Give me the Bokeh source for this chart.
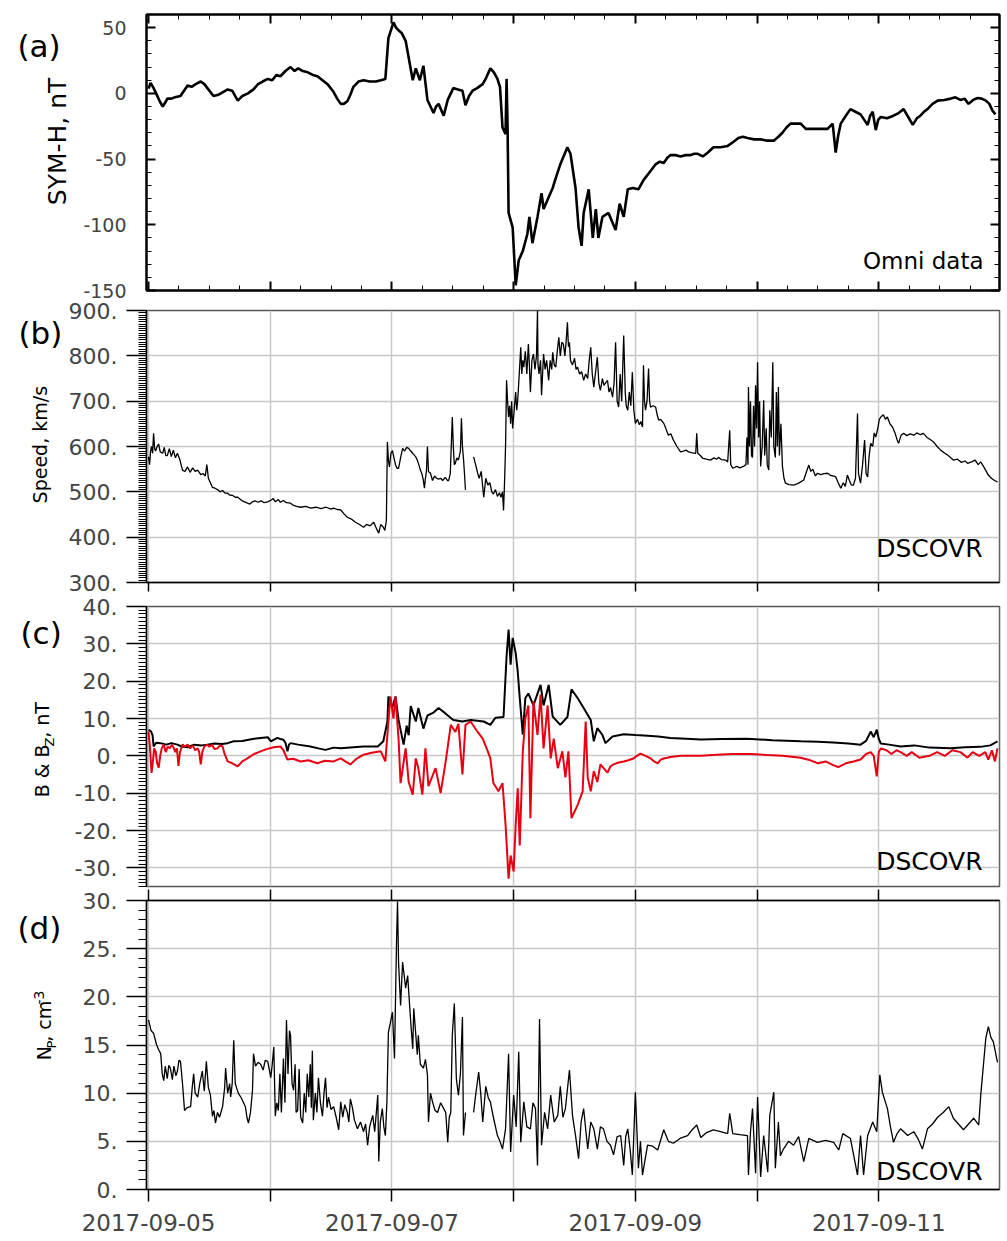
import math
from bokeh.plotting import figure
from bokeh.models import Range1d, FixedTicker, LinearAxis, Label, PrintfTickFormatter, Grid
from bokeh.layouts import column, row
from bokeh.embed import file_html
from bokeh.resources import INLINE

NAN = float("nan")
FONT = "DejaVu Sans"

# time axis: hours after 2017-09-05 00:00 UT
day_hours = [0, 24, 48, 72, 96, 120, 144, 168]
day_labels = ["2017-09-05", "", "2017-09-07", "", "2017-09-09", "", "2017-09-11", ""]

# (a) SYM-H, nT (Omni) -- (hour, value) readings
symh_pts = [
    (0, 3.6), (0.4, 8), (1.0, 4), (1.5, 0), (2.2, -6), (2.8, -10), (3.3, -7), (3.7, -4), (4.5, -4),
    (5.2, -3), (6.3, -2), (7.0, 2), (7.7, 6), (8.5, 5), (9.3, 7), (10.3, 9), (11.0, 7), (11.8, 3),
    (12.8, -2), (13.8, -1), (14.7, 1), (15.6, 3), (16.5, 2), (17.6, -5.5), (18.5, -2), (19.6, 0),
    (20.7, 3), (21.6, 7), (22.5, 9), (23.5, 11), (24.4, 10), (25.2, 14), (26.0, 13), (27.0, 17),
    (28.0, 20), (28.8, 17), (29.5, 19), (30.4, 17), (31.4, 16), (32.4, 14), (33.3, 13), (34.3, 10),
    (35.3, 7), (36.5, 1), (37.2, -4), (37.9, -8), (38.5, -8), (39.2, -6), (39.8, -1), (40.4, 5),
    (41.4, 9), (42.4, 10), (43.6, 9), (44.8, 9), (45.8, 10), (46.7, 11), (47.3, 42), (48.3, 54),
    (48.8, 50), (49.3, 48), (49.9, 46), (50.7, 40), (51.4, 25), (52.1, 10), (52.7, 19), (53.5, 10),
    (54.2, 21), (55.0, -5), (56.2, -15), (56.7, -10), (57.2, -8), (58.2, -17), (59.0, -5), (60.1, 4),
    (61.0, 3), (61.9, 2), (62.5, -9), (63.2, -2), (63.9, 2), (64.8, 4), (65.9, 7), (66.6, 12),
    (67.4, 19), (68.1, 16), (68.8, 11), (69.3, 5), (69.8, -26), (70.4, -31), (70.6, 11), (70.8, -26),
    (71.0, -91), (71.8, -102), (72.4, -146), (73.0, -127), (73.8, -120), (74.7, -107), (75.1, -94),
    (75.7, -114), (76.7, -94), (77.5, -76), (77.9, -88), (78.9, -79), (79.7, -72), (80.5, -62),
    (81.2, -54), (82.6, -41), (83.2, -46), (84.2, -72), (84.8, -102), (85.4, -116), (85.8, -91),
    (86.8, -73), (87.6, -110), (88.2, -88), (88.7, -110), (89.5, -94), (90.7, -91), (92.1, -104),
    (92.9, -84), (93.7, -94), (94.5, -73), (95.5, -72), (96.6, -73), (97.6, -66), (98.8, -60),
    (100.0, -54), (100.8, -52), (101.6, -53), (102.3, -49), (102.9, -47), (103.9, -47), (104.9, -48),
    (105.9, -47), (106.9, -47), (107.6, -46), (108.3, -46), (109.3, -48), (110.3, -45), (111.4, -41),
    (112.8, -41), (114.2, -40), (115.3, -37), (116.3, -34), (117.2, -33), (118.1, -34), (119.4, -35),
    (120.7, -35), (122.0, -36), (123.3, -36), (124.2, -33), (125.0, -30), (125.8, -26), (126.6, -23),
    (127.6, -23), (128.6, -23), (129.6, -27), (131.8, -27), (133.9, -27), (134.9, -23), (135.5, -45),
    (136.0, -32), (136.5, -23), (137.5, -17), (138.4, -12), (139.4, -14), (140.4, -16), (141.1, -20),
    (141.8, -24), (142.3, -17), (142.8, -14), (143.4, -28), (143.9, -20), (144.4, -18), (145.6, -19),
    (146.9, -17), (147.9, -15), (148.9, -12), (149.8, -18), (150.7, -24), (151.5, -19), (152.2, -17),
    (152.9, -14), (153.6, -12), (154.6, -8), (155.6, -5.5), (156.9, -5), (158.2, -4), (159.1, -3),
    (160.1, -5), (160.9, -4), (161.7, -8), (162.6, -5), (163.5, -3.5), (164.3, -4), (165.1, -5.5),
    (165.8, -8), (166.4, -13), (167.0, -16),
]

# (b) solar wind speed, km/s (DSCOVR); NAN marks a data gap
speed_pts = [
    (0, 577), (0.2, 560), (0.4, 590), (0.6, 600), (0.8, 585), (1.0, 629), (1.2, 595), (1.4, 590),
    (1.7, 600), (2.0, 605), (2.3, 588), (2.8, 585), (3.1, 598), (3.4, 580), (3.7, 580), (4.1, 595),
    (4.5, 578), (4.9, 592), (5.3, 575), (5.7, 585), (6.2, 570), (6.7, 548), (7.2, 545), (7.7, 555),
    (8.2, 543), (8.7, 553), (9.2, 545), (9.7, 548), (10.3, 538), (10.8, 540), (11.2, 535), (11.5, 560),
    (11.8, 530), (12.2, 520), (12.6, 510), (13.1, 508), (13.6, 505), (14.1, 500), (14.6, 503),
    (15.1, 497), (15.6, 497), (16.0, 493), (16.6, 492), (17.1, 488), (17.6, 488), (18.5, 480),
    (19.5, 475), (20.0, 473), (20.5, 478), (21.0, 480), (21.6, 477), (22.2, 480), (22.8, 476),
    (23.5, 478), (24.2, 482), (24.6, 485), (25.0, 478), (25.6, 483), (26.0, 477), (26.6, 481),
    (27.2, 476), (28.0, 475), (28.6, 470), (29.2, 468), (30.0, 466), (31.0, 468), (32.0, 464),
    (33.0, 466), (34.0, 463), (35.0, 466), (36.0, 462), (36.5, 464), (37.2, 461), (37.9, 460),
    (38.5, 452), (39.2, 444), (40.0, 440), (40.8, 433), (41.6, 428), (42.4, 422), (43.0, 428),
    (43.7, 425), (44.4, 433), (44.9, 420), (45.4, 409), (45.8, 428), (46.3, 422), (46.6, 415),
    (46.9, 437), (47.1, 610), (47.3, 570), (47.5, 555), (47.8, 585), (48.1, 591), (48.4, 575),
    (48.7, 560), (49.0, 552), (49.3, 552), (49.7, 575), (50.1, 596), (50.5, 590), (50.9, 598),
    (51.3, 596), (51.7, 590), (52.1, 585), (52.7, 577), (53.0, 570), (53.3, 560), (53.6, 548),
    (53.9, 540), (54.2, 525), (54.4, 508), (54.6, 530), (54.8, 545), (55.0, 600), (55.2, 545),
    (55.6, 541), (56.0, 525), (56.4, 535), (56.8, 530), (57.2, 528), (57.6, 530), (58.0, 525),
    (58.5, 532), (59.0, 524), (59.2, 526), (59.5, 540), (59.9, 665), (60.1, 600), (60.3, 560),
    (60.5, 563), (60.8, 575), (61.1, 570), (61.5, 590), (61.7, 662), (61.9, 600), (62.1, 574),
    (62.3, 540), (62.5, 504), (63.3, NAN), (64.1, 577), (64.5, 560), (64.9, 541), (65.2, 530),
    (65.6, 545), (66.1, 488), (66.5, 530), (66.9, 515), (67.3, 520), (67.7, 500), (68.0, 495),
    (68.4, 505), (68.8, 490), (69.2, 498), (69.5, 488), (69.8, 500), (70.0, 459), (70.2, 520),
    (70.4, 600), (70.6, 746), (70.8, 700), (71.0, 665), (71.2, 690), (71.4, 650), (71.6, 700),
    (71.8, 640), (72.1, 680), (72.4, 720), (72.6, 680), (72.8, 702), (73.1, 760), (73.4, 819),
    (73.6, 760), (73.8, 790), (74.0, 775), (74.3, 810), (74.6, 760), (74.9, 826), (75.1, 780),
    (75.3, 720), (75.6, 790), (75.9, 804), (76.2, 770), (76.5, 800), (76.7, 900), (76.8, 780),
    (77.0, 760), (77.3, 790), (77.5, 713), (77.7, 760), (77.9, 804), (78.2, 770), (78.5, 790),
    (78.9, 746), (79.2, 790), (79.5, 770), (79.7, 808), (80.0, 780), (80.3, 775), (80.6, 810),
    (80.9, 841), (81.2, 800), (81.5, 830), (81.8, 826), (82.1, 800), (82.4, 840), (82.6, 874),
    (82.8, 820), (83.0, 830), (83.2, 790), (83.6, 780), (84.0, 795), (84.3, 770), (84.6, 775),
    (85.0, 760), (85.4, 765), (85.8, 746), (86.2, 760), (86.6, 750), (86.9, 790), (87.2, 819),
    (87.5, 760), (87.8, 731), (88.1, 760), (88.5, 797), (88.8, 740), (89.1, 724), (89.5, 750),
    (89.8, 735), (90.1, 740), (90.5, 746), (90.8, 720), (91.1, 730), (91.5, 709), (91.8, 740),
    (92.1, 830), (92.4, 700), (92.7, 687), (93.0, 760), (93.3, 700), (93.7, 845), (94.0, 720),
    (94.2, 690), (94.5, 680), (94.8, 720), (95.1, 690), (95.4, 764), (95.7, 680), (96.0, 651),
    (96.4, 660), (96.8, 648), (97.1, 655), (97.4, 643), (97.6, 779), (97.8, 700), (98.0, 680),
    (98.3, 700), (98.6, 772), (98.8, 700), (99.0, 687), (99.5, 690), (100.0, 687), (100.3, 670),
    (100.6, 658), (101.0, 660), (101.6, 651), (102.0, 640), (102.5, 625), (103.0, 628), (103.5, 614),
    (104.2, 600), (104.9, 588), (105.5, 590), (106.0, 592), (106.5, 588), (107.2, 586), (107.9, 585),
    (108.1, 629), (108.3, 585), (108.8, 580), (109.3, 574), (110.0, 572), (110.8, 570), (111.5, 575),
    (112.0, 572), (112.4, 576), (113.0, 571), (113.8, 570), (114.2, 566), (114.6, 636), (114.8, 560),
    (115.2, 552), (116.0, 556), (116.6, 553), (117.3, 556), (117.8, 560), (118.0, 620), (118.2, 560),
    (118.3, 731), (118.5, 600), (118.7, 700), (118.9, 580), (119.1, 576), (119.3, 690), (119.5, 600),
    (119.7, 735), (119.9, 640), (120.1, 786), (120.3, 620), (120.5, 700), (120.7, 556), (121.0, 600),
    (121.3, 702), (121.5, 580), (121.8, 640), (122.0, 560), (122.3, 548), (122.5, 680), (122.8, 620),
    (123.1, 786), (123.3, 600), (123.6, 576), (123.8, 720), (124.0, 600), (124.2, 731), (124.4, 580),
    (124.7, 650), (125.0, 556), (125.3, 530), (125.6, 519), (126.3, 516), (127.2, 515), (128.0, 518),
    (128.6, 522), (129.2, 526), (129.6, 540), (130.2, 559), (130.6, 545), (131.0, 550), (131.5, 535),
    (131.9, 541), (132.5, 538), (133.2, 540), (133.9, 541), (134.5, 536), (135.0, 535), (135.5, 533),
    (136.0, 520), (136.5, 508), (137.0, 520), (137.4, 512), (137.8, 537), (138.2, 525), (138.6, 515),
    (139.0, 515), (139.4, 530), (139.8, 673), (140.0, 540), (140.4, 519), (140.8, 560), (141.2, 614),
    (141.5, 540), (141.8, 533), (142.1, 580), (142.4, 607), (142.8, 600), (143.1, 630), (143.4, 621),
    (143.8, 640), (144.1, 660), (144.4, 665), (144.9, 670), (145.3, 660), (145.7, 665), (146.2, 650),
    (146.7, 643), (147.2, 630), (147.6, 615), (147.9, 607), (148.4, 625), (148.9, 629), (149.5, 624),
    (150.2, 628), (150.9, 625), (151.5, 630), (152.2, 626), (152.8, 629), (153.5, 620), (154.2, 615),
    (154.8, 610), (155.5, 600), (156.2, 592), (157.0, 585), (157.6, 581), (158.2, 575), (158.7, 570),
    (159.5, 572), (160.3, 565), (161.0, 568), (161.5, 563), (162.3, 566), (163.0, 570), (163.6, 560),
    (164.1, 566), (164.7, 555), (165.2, 545), (165.6, 537), (166.2, 530), (166.8, 525), (167.4, 522),
]

# (c) |B| (black), nT (DSCOVR)
b_pts = [
    (0, 7), (0.5, 6.5), (0.8, 5.5), (1.0, 2.5), (1.5, 3.5), (2.4, 3.4), (3.5, 3), (4.5, 3.4),
    (5.7, 3), (6.5, 2.5), (7.7, 2.3), (9.0, 3), (10.5, 2.8), (11.6, 3), (13.0, 3.3), (14.5, 3.2),
    (15.6, 3.4), (16.8, 3.9), (18.5, 4), (20.5, 4.5), (22.1, 4.8), (23.5, 5), (24.1, 3.9),
    (25.4, 4.8), (26.0, 4.5), (26.6, 4.3), (27.0, 3.5), (27.4, 1.2), (27.7, 3), (28.0, 3.4),
    (29.5, 3), (31.9, 2.5), (33.5, 2), (34.9, 1.6), (36.5, 2.2), (37.9, 2), (38.5, 2.1), (42.4, 2.5),
    (45.2, 2.5), (46.3, 3.9), (47.1, 9.2), (47.3, 15.9), (48.1, 13), (48.7, 15.9), (49.3, 9.6),
    (50.3, 3), (50.9, 8.1), (51.3, 5.5), (51.7, 13.3), (52.7, 9.2), (53.2, 12.8), (54.2, 7.3),
    (55.0, 10.8), (56.2, 11.6), (57.2, 12.8), (58.6, 11.3), (60.1, 9.6), (61.9, 9.2), (63.5, 9.6),
    (66.1, 9.2), (67.4, 8.3), (68.4, 10.2), (70.0, 10.4), (70.6, 26.6), (71.0, 33.8), (71.4, 24.4),
    (71.8, 31.6), (72.4, 27.5), (72.8, 22.6), (73.2, 15.5), (73.8, 5.7), (74.3, 15.5), (74.9, 16.7),
    (75.9, 13.5), (77.3, 19), (77.9, 13.5), (78.9, 19), (79.7, 10.5), (81.2, 8.3), (82.6, 10.4),
    (83.4, 17.8), (84.6, 15.5), (85.8, 12.8), (87.2, 9.6), (87.8, 3.9), (88.5, 7.4), (89.5, 5.6),
    (90.1, 3.4), (91.5, 5.2), (93.7, 5.8), (96.0, 5.6), (98.4, 5.4), (100.5, 5.2), (102.9, 4.8),
    (106.0, 4.6), (108.9, 4.4), (113.0, 4.5), (118.0, 4.6), (123.0, 4.2), (128.6, 3.9), (132.0, 3.8),
    (135.0, 3.6), (138.0, 3.3), (140.4, 3), (141.5, 4), (142.4, 6.5), (143.0, 5), (143.6, 7),
    (144.0, 4.5), (144.4, 3.3), (146.0, 3), (148.3, 2.5), (151.0, 2.8), (154.0, 2.2), (158.2, 2),
    (161.0, 2.3), (164.0, 2.4), (166.0, 2.8), (167.4, 3.9),
]

# (c) Bz (red), nT (DSCOVR)
bz_pts = [
    (0, 6.5), (0.3, 2), (0.6, -4.6), (0.9, -1), (1.1, 2), (1.4, 1.2), (1.7, -2), (2.0, -3.2),
    (2.3, 0), (2.6, 2), (3.0, 3), (3.4, 1), (3.8, 2.5), (4.2, 2), (4.6, 3), (4.9, 2.3), (5.3, 1),
    (5.6, 2), (5.9, -2.7), (6.2, 1), (6.7, 3), (7.2, 2.5), (7.7, 3), (8.2, 2), (8.7, 2.8), (9.2, 1.5),
    (9.7, 2), (10.0, 1), (10.3, -2.3), (10.6, 1), (11.0, 2.5), (11.6, 3), (12.0, 2.4), (12.5, 3),
    (13.0, 1.8), (13.6, 2), (14.1, 2.8), (14.6, 2.5), (15.0, 0.5), (15.6, -1.5), (16.5, -2),
    (17.6, -2.8), (18.5, -1.5), (19.5, -0.7), (20.8, 0.5), (22.1, 1.2), (23.3, 1.8), (24.7, 2.3),
    (26.0, 2.5), (26.6, 1.5), (27.4, -1), (28.5, -0.8), (30.0, -1.5), (31.5, -1.2), (33.3, -2),
    (34.8, -1.3), (36.5, -1.5), (37.9, -0.7), (38.8, -1.5), (39.8, -2.3), (41.0, -0.8), (42.4, 0.3),
    (44.0, 0.8), (45.8, 1.2), (46.7, -1.5), (47.3, 9.2), (47.7, 15.9), (48.3, 10), (48.7, 15.9),
    (49.3, 4.6), (49.7, -7.3), (50.7, 2), (51.3, -7), (52.1, -10.4), (52.7, -0.7), (53.2, -3.3),
    (54.0, -10.4), (54.6, 2), (55.2, -8.1), (56.6, -3.3), (57.6, -10), (58.6, -1.5), (59.6, 8.3),
    (60.5, 6.4), (61.1, 8.6), (61.9, -5), (62.5, 8.3), (63.5, 9.2), (64.9, 6.4), (65.9, 4.6),
    (66.9, 1.2), (67.4, -0.7), (68.0, -7.3), (69.0, -9.5), (69.8, -7.3), (70.4, -18.4), (71.0, -32.9),
    (71.4, -26.7), (72.0, -31), (72.4, -18.4), (72.8, -8.7), (73.2, -24), (73.8, 1.2), (74.3, 10),
    (74.9, 13.5), (75.3, -16.7), (75.9, 14.6), (76.7, 5.6), (77.3, 16.4), (77.9, 2), (78.7, 13.5),
    (79.3, -0.7), (79.9, 4.6), (80.7, -3.3), (81.6, 1.2), (82.2, -5.8), (82.8, 1.2), (83.4, -16.7),
    (84.6, -13.2), (85.6, -9.5), (86.2, 9.2), (86.6, -5.8), (87.2, -9.5), (87.8, -4.1), (88.5, -7),
    (89.1, -2.3), (90.5, -4.5), (91.1, -2.8), (91.7, -2.3), (92.7, -1.8), (93.7, -1.5), (94.6, -1.2),
    (95.6, -0.7), (96.3, 0), (97.0, 0.6), (98.0, 0), (99.0, -0.7), (99.7, -1.5), (100.4, -2),
    (101.0, -1), (101.6, -0.7), (102.3, -0.5), (102.9, -0.3), (105.0, 0), (108.9, 0), (112.0, 0.3),
    (115.0, 0.5), (118.7, 0.5), (122.0, 0.2), (125.0, 0), (128.6, -0.5), (130.5, -1.2), (132.0, -2),
    (133.5, -1.5), (135.0, -2.5), (136.0, -3), (137.5, -2), (139.0, -1.5), (140.4, -1), (141.5, 0.5),
    (142.4, 1), (143.0, 0), (143.6, -5.5), (144.0, 1), (144.4, 2), (145.5, 1.5), (146.5, 0.5),
    (147.5, 1.5), (148.3, 1), (149.5, 0), (150.5, 1), (152.0, -0.5), (154.0, 0), (155.5, 1),
    (157.0, 0), (158.5, 1.5), (160.1, 1), (161.5, -0.5), (162.5, 1), (163.8, 0), (165.0, 1),
    (165.6, -1), (166.3, 1.5), (166.9, -1.5), (167.4, 2),
]

# (d) proton density, cm^-3 (DSCOVR); NAN marks a data gap
np_pts = [
    (0, 17.6), (0.5, 16.5), (1.0, 16.2), (1.6, 15), (2.0, 14.5), (2.4, 14.1), (2.7, 12), (3.0, 11.3),
    (3.3, 12.8), (3.7, 11.5), (4.0, 12.9), (4.3, 12.6), (4.7, 11.4), (5.0, 12.8), (5.4, 11.8),
    (5.7, 12.3), (6.0, 13.4), (6.3, 13.3), (6.7, 11), (7.1, 8.2), (7.6, 8.5), (8.3, 8.6), (8.6, 10.5),
    (8.9, 12), (9.2, 10), (9.7, 9.6), (10.1, 11), (10.6, 12.3), (11.0, 10.2), (11.4, 13.3),
    (11.8, 10.6), (12.2, 9.8), (12.6, 7.6), (12.9, 8.2), (13.2, 6.9), (13.6, 8), (14.0, 7.5),
    (14.6, 8.6), (15.0, 10.5), (15.2, 12.6), (15.6, 10), (16.0, 11), (16.2, 9.6), (16.5, 11),
    (16.8, 15.5), (17.1, 11), (17.4, 10.5), (17.7, 10), (18.3, 9.5), (19.1, 8.6), (19.4, 7.5),
    (19.7, 6.9), (20.1, 8), (20.5, 10.3), (20.7, 14.1), (21.1, 12.8), (21.6, 13.2), (22.1, 13),
    (22.6, 12.4), (23.0, 13.4), (23.5, 13.3), (23.8, 12.5), (24.1, 11.6), (24.4, 13), (24.7, 14.8),
    (24.9, 10), (25.0, 7.6), (25.3, 9), (25.6, 8.2), (25.9, 12), (26.2, 8), (26.6, 13.6), (26.9, 9),
    (27.2, 17.6), (27.5, 12), (27.8, 16.5), (28.0, 16), (28.3, 11), (28.6, 10.3), (28.9, 13),
    (29.1, 8), (29.4, 8.2), (29.7, 12.5), (30.0, 7.5), (30.4, 6.9), (30.7, 10), (31.0, 8), (31.3, 12),
    (31.6, 9.6), (31.9, 13), (32.1, 8.5), (32.3, 14.4), (32.5, 7.2), (32.9, 10), (33.2, 8),
    (33.5, 11.6), (33.9, 9), (34.3, 7.6), (34.6, 10), (34.9, 11.6), (35.2, 8.5), (35.5, 9.6),
    (36.0, 8.3), (36.5, 8.6), (37.0, 7.5), (37.5, 6.2), (37.9, 9.1), (38.3, 7.5), (38.7, 8.8),
    (39.2, 8), (39.5, 7), (39.8, 9.4), (40.2, 8.5), (40.6, 7.2), (41.2, 6.3), (41.8, 7), (42.4, 6),
    (42.8, 6.8), (43.2, 4.6), (43.6, 6.5), (44.2, 7.7), (44.6, 6), (45.0, 8.5), (45.2, 9.8),
    (45.4, 2.9), (45.7, 7), (46.1, 8.4), (46.4, 6.5), (46.7, 5.6), (47.0, 9), (47.3, 16.3),
    (48.1, 18.4), (48.5, 13.6), (48.9, 25.7), (49.1, 29.9), (49.3, 23.6), (49.7, 19.1), (50.1, 23.6),
    (50.7, 20.9), (51.1, 22.2), (51.7, 17.4), (52.1, 14.6), (52.3, 18.8), (53.0, 14), (53.2, 16),
    (53.6, 13), (54.2, 12.6), (54.6, 13.5), (55.0, 11.9), (55.2, 7), (55.6, 10), (56.0, 9.1),
    (56.5, 8.2), (57.0, 8), (57.6, 9), (58.2, 8.4), (58.6, 8), (59.0, 4.9), (59.3, 7.5), (59.6, 8),
    (59.9, 16), (60.3, 19.3), (60.7, 11.5), (61.1, 9.8), (61.5, 12), (61.9, 17.9), (62.1, 5.6),
    (62.5, 8), (63.3, NAN), (64.1, 8), (64.5, 9.8), (65.1, 12.2), (65.5, 10), (65.9, 7), (66.5, 10.7),
    (67.0, 9.5), (67.4, 9.1), (68.0, 7.5), (68.8, 5.6), (69.3, 5), (69.8, 4.2), (70.4, 6.3),
    (71.0, 14.1), (71.4, 3.9), (72.0, 9.8), (72.5, 6.5), (73.0, 14.3), (73.4, 4.9), (74.0, 9.1),
    (74.6, 6.5), (75.3, 6.3), (75.8, 9), (76.3, 8.4), (76.7, 2.5), (77.1, 17.7), (77.5, 4.6),
    (78.1, 8), (78.7, 6.3), (79.3, 9.8), (80.0, 7), (80.7, 7.7), (81.2, 10.7), (81.7, 7.5),
    (82.2, 8.4), (83.0, 12.4), (83.6, 7.7), (84.2, 5.6), (84.8, 3.2), (85.3, 7), (85.8, 8.4),
    (86.6, 4.2), (87.2, 7), (87.8, 6.3), (88.5, 4.2), (89.1, 6.5), (89.7, 6.3), (90.4, 5),
    (91.1, 4.6), (91.7, 3.6), (92.4, 5.5), (93.1, 5.6), (93.7, 2.5), (94.1, 5.5), (94.5, 6.3),
    (95.0, 4), (95.4, 1.5), (96.0, 10.1), (96.6, 2.2), (97.0, 5), (97.4, 1.5), (98.4, 4.6),
    (99.4, 4.5), (100.4, 4.1), (101.6, 6.2), (102.5, 5.0), (103.5, 4.8), (104.8, 5.3), (106.3, 5.6),
    (107.2, 6.2), (108.1, 6.7), (108.9, 5.4), (110.0, 5.9), (111.4, 6.2), (112.8, 6), (114.2, 5.8),
    (114.6, 7.9), (115.2, 5.8), (116.6, 5.7), (118.1, 5.6), (118.3, 1.5), (118.7, 6), (119.1, 8.4),
    (119.7, 1.7), (120.1, 9.6), (120.7, 1.3), (121.3, 5.6), (122.1, 1.8), (122.5, 7.7), (123.3, 10.1),
    (123.6, 2.2), (124.2, 7), (124.6, 3.5), (125.2, 4.2), (126.2, 5), (127.2, 4.6), (128.2, 5.5),
    (129.2, 2.9), (130.2, 5.3), (131.9, 4.9), (133.5, 5.1), (135.1, 4.9), (136.1, 4.1), (136.9, 5.8),
    (138.4, 5.3), (139.8, 1.5), (140.4, 5.6), (141.0, 1.5), (141.8, 5.6), (142.8, 7), (143.6, 6),
    (144.2, 11.9), (144.7, 10.1), (145.7, 8.4), (146.3, 6.5), (146.9, 4.9), (147.6, 5.8), (148.3, 6.3),
    (149.7, 5.6), (150.9, 6), (151.8, 5.2), (152.6, 4.2), (153.6, 6.3), (154.6, 6.8), (155.6, 7.5),
    (156.7, 8), (157.8, 8.6), (158.7, 7.4), (159.7, 6.8), (160.7, 6.2), (161.7, 6.8), (162.7, 7.4),
    (163.7, 6.7), (164.1, 9.8), (165.1, 15.7), (165.6, 16.9), (166.1, 15.8), (166.6, 15.3),
    (167.4, 13.2),
]

# ---------------------------------------------------------------------------
xr = Range1d(-0.4, 167.8)
six_hours = list(range(0, 169, 6))
GRID_COLOR = "#c8c8c8"
TOTAL_W = 1007
FRAME_LEFT = 146


def xs(pts):
    return [t for t, _ in pts]


def ys(pts):
    return [v for _, v in pts]


def side_fig(w, h):
    """narrow text-only strip left of a panel (panel letter, y title)"""
    s = figure(width=w, height=h, x_range=Range1d(0, w), y_range=Range1d(0, h),
               output_backend="svg", toolbar_location=None, title=None,
               x_axis_location=None, y_axis_location=None,
               min_border=0, min_border_left=0, min_border_right=0,
               min_border_top=0, min_border_bottom=0)
    s.outline_line_color = None
    s.grid.visible = False
    s.background_fill_color = "white"
    s.border_fill_color = "white"
    return s


def base(side_w, height, top, bottom, y0, y1, x_loc="below"):
    p = figure(width=TOTAL_W - side_w, height=height, x_range=xr, y_range=Range1d(y0, y1),
               output_backend="svg", toolbar_location=None, title=None,
               min_border_left=FRAME_LEFT - side_w, min_border_right=8,
               min_border_top=top, min_border_bottom=bottom,
               x_axis_location=x_loc)
    p.background_fill_color = "white"
    p.border_fill_color = "white"
    return p


def hide_labels(ax, ticks):
    ax.major_label_overrides = {t: "" for t in ticks}
    ax.major_label_text_font_size = "1px"
    ax.major_label_standoff = 0


def style_line(ax, lw):
    ax.axis_line_color = "black"
    ax.axis_line_width = lw
    ax.major_tick_line_color = "black"
    ax.major_tick_line_width = lw
    ax.minor_tick_line_color = "black"
    ax.minor_tick_line_width = 1


def txt(p, x, y, text, size, angle=0.0, align="left", units="data"):
    p.add_layout(Label(x=x, y=y, x_units=units, y_units=units, text=text,
                       text_font=FONT, text_font_size=size, angle=angle,
                       text_align=align, text_baseline="middle", text_color="black"))


UP = math.pi / 2

# ---------------- (a) SYM-H ----------------
WA, HA = 78, 300
sa = side_fig(WA, HA)
txt(sa, 17, 266, "(a)", "31px")
txt(sa, 57, 162, "SYM-H, nT", "25px", angle=UP, align="center")

pa = base(WA, HA, 14, 10, -150, 60)
pa.grid.visible = False
pa.outline_line_color = "black"
pa.outline_line_width = 2

a_yticks = [-150, -100, -50, 0, 50]
a_yminor = list(range(-150, 61, 10))
for loc in ("below", "above"):
    if loc == "below":
        ax = pa.xaxis[0]
    else:
        ax = LinearAxis()
        pa.add_layout(ax, "above")
    ax.ticker = FixedTicker(ticks=day_hours, minor_ticks=six_hours)
    ax.major_tick_in = 9
    ax.major_tick_out = 0
    ax.minor_tick_in = 5
    ax.minor_tick_out = 0
    style_line(ax, 2)
    hide_labels(ax, day_hours)

ya = pa.yaxis[0]
ya.ticker = FixedTicker(ticks=a_yticks, minor_ticks=a_yminor)
ya.major_tick_in = 9
ya.major_tick_out = 0
ya.minor_tick_in = 5
ya.minor_tick_out = 0
style_line(ya, 2)
ya.major_label_overrides = {t: str(t) for t in a_yticks}
ya.major_label_text_font = FONT
ya.major_label_text_font_size = "19px"
ya.major_label_standoff = 20

ra = LinearAxis(ticker=FixedTicker(ticks=a_yticks, minor_ticks=a_yminor))
ra.major_tick_in = 9
ra.major_tick_out = 0
ra.minor_tick_in = 5
ra.minor_tick_out = 0
style_line(ra, 2)
hide_labels(ra, a_yticks)
pa.add_layout(ra, "right")

pa.line(xs(symh_pts), ys(symh_pts), line_color="black", line_width=2.6)
txt(pa, 837, 29.5, "Omni data", "23px", align="right", units="screen")


# ---------------- helper for DSCOVR panels ----------------
def dscovr_panel(side_w, height, top, bottom, y0, y1, yticks, yminor, x_loc="below"):
    p = base(side_w, height, top, bottom, y0, y1, x_loc=x_loc)
    p.outline_line_color = "#555555"
    p.outline_line_width = 1.5
    yax = p.yaxis[0]
    yax.ticker = FixedTicker(ticks=yticks, minor_ticks=yminor)
    yax.major_tick_in = 0
    yax.major_tick_out = 20
    yax.minor_tick_in = 0
    yax.minor_tick_out = 8
    style_line(yax, 1.5)
    yax.formatter = PrintfTickFormatter(format="%d.")
    yax.major_label_text_font = FONT
    yax.major_label_text_font_size = "22px"
    yax.major_label_standoff = 9
    if len(p.xgrid) == 0:
        p.add_layout(Grid(dimension=0, ticker=FixedTicker(ticks=day_hours)))
    p.xgrid.ticker = FixedTicker(ticks=day_hours)
    p.grid.grid_line_color = GRID_COLOR
    p.grid.grid_line_width = 1.5
    return p


WS = 65

# ---------------- (b) speed ----------------
HB = 296
sb = side_fig(WS, HB)
txt(sb, 18, 271, "(b)", "31px")
txt(sb, 39, 150, "Speed, km/s", "19px", angle=UP, align="center")

b_yticks = list(range(300, 901, 100))
pb = dscovr_panel(WS, HB, 10, 14, 300, 900, b_yticks, list(range(300, 901, 5)))
xb = pb.xaxis[0]
xb.ticker = FixedTicker(ticks=day_hours, minor_ticks=[])
xb.major_tick_in = 0
xb.major_tick_out = 9
style_line(xb, 1.5)
hide_labels(xb, day_hours)
pb.line(xs(speed_pts), ys(speed_pts), line_color="black", line_width=1.3)
txt(pb, 836, 34.5, "DSCOVR", "25px", align="right", units="screen")

# ---------------- (c) B and Bz ----------------
HC = 292
sc = side_fig(WS, HC)
txt(sc, 20, 264, "(c)", "31px")
txt(sc, 41.4, 93, "B & B", "19px", angle=UP)
txt(sc, 48.5, 146, "Z", "13px", angle=UP)
txt(sc, 41.4, 155, ", nT", "19px", angle=UP)

c_yticks = list(range(-30, 41, 10))
pc = dscovr_panel(WS, HC, 10, 2, -35, 40, c_yticks, list(range(-35, 41, 1)), x_loc=None)
pc.line(xs(b_pts), ys(b_pts), line_color="black", line_width=2.0)
pc.line(xs(bz_pts), ys(bz_pts), line_color="#e60012", line_width=2.0)
txt(pc, 836, 25, "DSCOVR", "25px", align="right", units="screen")

# ---------------- (d) Np ----------------
HD = 353
sd = side_fig(WS, HD)
txt(sd, 17, 320, "(d)", "31px")
txt(sd, 43.4, 158, "N", "19px", angle=UP)
txt(sd, 50.5, 172.2, "P", "13px", angle=UP)
txt(sd, 43.4, 180.5, ", cm", "19px", angle=UP)
txt(sd, 38.0, 226, "-3", "14px", angle=UP)

d_yticks = list(range(0, 31, 5))
pd = dscovr_panel(WS, HD, 12, 52, 0, 30, d_yticks, list(range(0, 31, 1)))
xd = pd.xaxis[0]
xd.ticker = FixedTicker(ticks=day_hours, minor_ticks=[])
xd.major_tick_in = 0
xd.major_tick_out = 12
style_line(xd, 1.5)
xd.major_label_overrides = dict(zip(day_hours, day_labels))
xd.major_label_text_font = FONT
xd.major_label_text_font_size = "23px"
xd.major_label_standoff = 12
td = LinearAxis(ticker=FixedTicker(ticks=day_hours, minor_ticks=[]))
td.major_tick_in = 0
td.major_tick_out = 11
style_line(td, 1.5)
hide_labels(td, day_hours)
pd.add_layout(td, "above")
pd.line(xs(np_pts), ys(np_pts), line_color="black", line_width=1.3)
txt(pd, 836, 18, "DSCOVR", "25px", align="right", units="screen")

layout = column(row(sa, pa), row(sb, pb), row(sc, pc), row(sd, pd))
open("out.html", "w").write(file_html(layout, INLINE))
